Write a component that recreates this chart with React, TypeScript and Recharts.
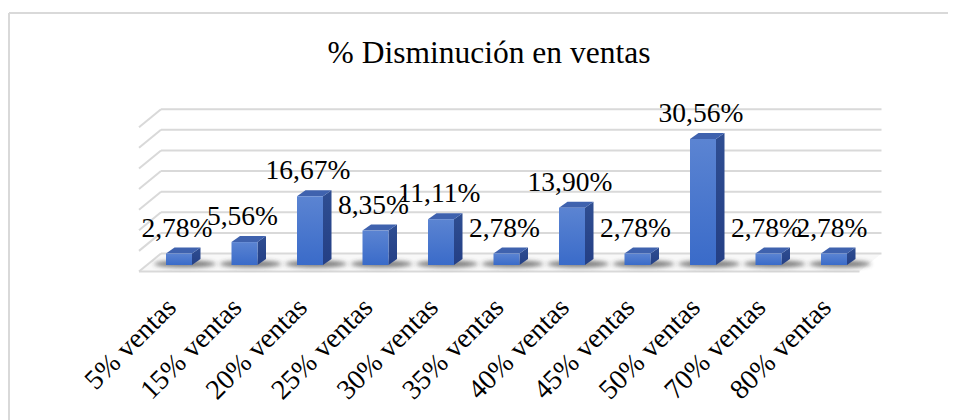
import { BarChart, Bar, XAxis, YAxis, CartesianGrid, LabelList, Customized } from 'recharts';

const categories = [
  '5% ventas', '15% ventas', '20% ventas', '25% ventas', '30% ventas', '35% ventas',
  '40% ventas', '45% ventas', '50% ventas', '70% ventas', '80% ventas',
];
const disminucion = [2.78, 5.56, 16.67, 8.35, 11.11, 2.78, 13.9, 2.78, 30.56, 2.78, 2.78];
const valueTicks = [0, 5, 10, 15, 20, 25, 30, 35];
const title = '% Disminución en ventas';

const data = categories.map((name, i) => ({ name, value: disminucion[i] }));

const SERIF = "'Liberation Serif', 'Times New Roman', 'DejaVu Serif', serif";
const GRID = '#d9d9d9';
// perspective offsets of the back wall / floor front edge / bar depth
const BACK = { dx: 15, dy: -11.5 };
const FRONT = { dx: -7, dy: 6.5 };
const DEPTH = { dx: 8.5, dy: -6 };

const fmt = (v: number) => v.toFixed(2).replace('.', ',') + '%';

function GridLine(p: any) {
  const { x1, x2, y1 } = p;
  const isFloor =
    typeof p.height === 'number' && typeof p.y === 'number'
      ? Math.abs(y1 - (p.y + p.height)) < 1
      : p.index === 0;
  const bx1 = x1 + BACK.dx;
  const bx2 = x2 + BACK.dx;
  const by = y1 + BACK.dy;
  const fx1 = x1 + FRONT.dx;
  const fx2 = x2 + FRONT.dx;
  const fy = y1 + FRONT.dy;
  return (
    <g key={p.key}>
      {isFloor && (
        <polygon points={`${bx1},${by} ${bx2},${by} ${fx2},${fy} ${fx1},${fy}`} fill="#f8f8f8" />
      )}
      <line x1={bx1} y1={by} x2={bx2} y2={by} stroke={GRID} strokeWidth={2} />
      <line x1={bx1} y1={by} x2={fx1} y2={fy} stroke={GRID} strokeWidth={2} />
      {isFloor && <line x1={fx1} y1={fy} x2={fx2} y2={fy} stroke={GRID} strokeWidth={2} />}
    </g>
  );
}

function Bar3D(p: any) {
  const { x, y, width, height } = p;
  if (!height) return null;
  const b = y + height;
  const { dx, dy } = DEPTH;
  return (
    <g>
      <defs>
        <linearGradient id="frontGrad" x1="0" y1="0" x2="0" y2="1">
          <stop offset="0%" stopColor="#5b84d2" />
          <stop offset="100%" stopColor="#3a6bc9" />
        </linearGradient>
        <linearGradient id="sideGrad" x1="0" y1="0" x2="0" y2="1">
          <stop offset="0%" stopColor="#2f4e92" />
          <stop offset="100%" stopColor="#243f85" />
        </linearGradient>
        <filter id="shadowBlur" x="-50%" y="-200%" width="200%" height="500%">
          <feGaussianBlur stdDeviation="2" />
        </filter>
      </defs>
      <ellipse
        cx={x + width / 2 + 6}
        cy={b - 1}
        rx={width / 2 + 18}
        ry={3.5}
        fill="#333"
        opacity={0.6}
        filter="url(#shadowBlur)"
      />
      <polygon
        points={`${x + width},${y} ${x + width + dx},${y + dy} ${x + width + dx},${b + dy} ${x + width},${b}`}
        fill="url(#sideGrad)"
      />
      <polygon
        points={`${x},${y} ${x + dx},${y + dy} ${x + width + dx},${y + dy} ${x + width},${y}`}
        fill="#3f62ae"
      />
      <rect x={x} y={y} width={width} height={height} fill="url(#frontGrad)" />
    </g>
  );
}

const textStyle = { fontFamily: SERIF, fill: '#000' };

function Tick(p: any) {
  const { x, y, payload } = p;
  const tx = x - 1;
  const ty = y + 44;
  return (
    <text
      x={tx}
      y={ty}
      transform={`rotate(-45 ${tx} ${ty})`}
      textAnchor="end"
      style={{ ...textStyle, fontSize: 28 }}
    >
      {payload.value}
    </text>
  );
}

function ValueLabel(p: any) {
  const { x, y, width, value } = p;
  return (
    <text x={x + width / 2 - 2} y={y - 17} textAnchor="middle" style={{ ...textStyle, fontSize: 27.5 }}>
      {fmt(Number(value))}
    </text>
  );
}

function Frame() {
  return (
    <g>
      <line x1={1} y1={5} x2={948} y2={5} stroke={GRID} strokeWidth={2} />
      <line x1={1} y1={5} x2={1} y2={412} stroke={GRID} strokeWidth={2} />
      <text x={481} y={55.3} textAnchor="middle" style={{ ...textStyle, fontSize: 31.5 }}>
        {title}
      </text>
    </g>
  );
}

export default function App() {
  return (
    <BarChart
      width={948}
      height={412}
      data={data}
      margin={{ top: 112.7, right: 89.5, left: 138, bottom: 125 }}
      style={{ fontFamily: SERIF }}
    >
      <CartesianGrid vertical={false} horizontal={GridLine} />
      <XAxis
        dataKey="name"
        height={30}
        interval={0}
        axisLine={false}
        tickLine={false}
        tickSize={0}
        tickMargin={0}
        tick={<Tick />}
      />
      <YAxis hide domain={[0, 35]} ticks={valueTicks} interval={0} />
      <Customized component={<Frame />} />
      <Bar dataKey="value" barSize={26} shape={<Bar3D />} isAnimationActive={false}>
        <LabelList dataKey="value" content={<ValueLabel />} />
      </Bar>
    </BarChart>
  );
}
